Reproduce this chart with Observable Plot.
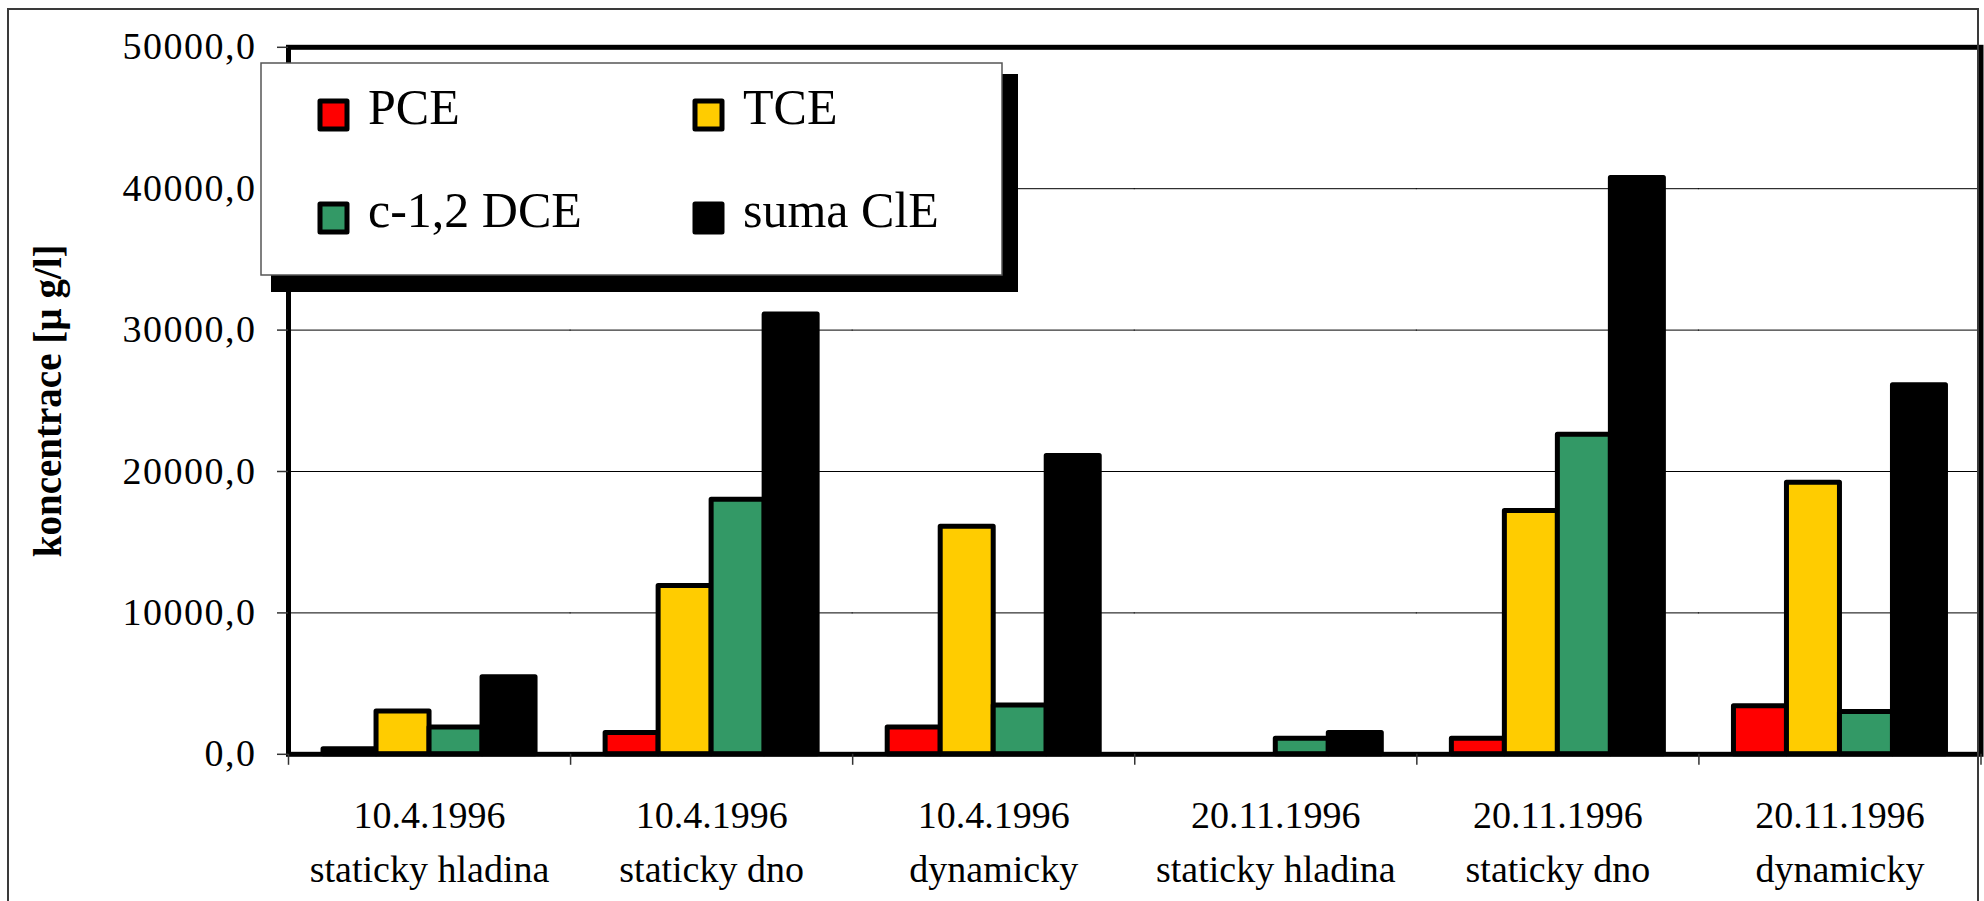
<!DOCTYPE html>
<html><head><meta charset="utf-8">
<script src="https://cdn.jsdelivr.net/npm/d3@7"></script>
<script src="https://cdn.jsdelivr.net/npm/@observablehq/plot@0.6"></script>
<style>
html,body{margin:0;padding:0;background:#fff;overflow:hidden;}
#wrap{position:relative;width:1984px;height:901px;overflow:hidden;background:#fff;}
#wrap > svg{position:absolute;left:0;top:0;max-width:none;}
g[aria-label="y-axis tick label"] text{letter-spacing:1.5px;}
g[aria-label="xlabels"] text{letter-spacing:1px;}
</style></head><body><div id="wrap"></div>
<script>
// ---- data ----
const dates = ["10.4.1996","10.4.1996","10.4.1996","20.11.1996","20.11.1996","20.11.1996"];
const sites = ["staticky hladina","staticky dno","dynamicky","staticky hladina","staticky dno","dynamicky"];
const series = ["PCE","TCE","c-1,2 DCE","suma ClE"];
const colors = ["#ff0000","#ffcc00","#339966","#000000"];
const PCE     = [350, 1500, 1900, 0, 1100, 3400];
const TCE     = [3030, 11900, 16100, 0, 17200, 19200];
const DCE     = [1900, 18000, 3460, 1100, 22600, 3000];
const sumaClE = [5450, 31100, 21100, 1500, 40750, 26100];
const yTicks = [0, 10000, 20000, 30000, 40000, 50000];
const yLabel = "koncentrace [µ g/l]";

const categories = dates.map((d, i) => d + "\n" + sites[i]);
const values = [PCE, TCE, DCE, sumaClE];
const rows = [];
series.forEach((s, j) => categories.forEach((c, i) => rows.push({cat: c, series: s, value: values[j][i]})));

// ---- layout ----
const W = 1984, H = 901;
const ML = 288, MR = 3.5, MT = 46.8, MB = H - 753.8;
const pInner = 0.2484, pOuter = pInner / 2;
const step = (W - ML - MR) / categories.length;
const outerGap = step * pOuter;
const fmt = d => d.toFixed(1).replace(".", ",");
const font = "'Liberation Serif', 'Times New Roman', serif";

const chart = Plot.plot({
  width: W, height: H,
  marginLeft: ML, marginRight: MR, marginTop: MT, marginBottom: MB,
  style: {fontFamily: font, fontSize: "38px", color: "#000", background: "transparent", overflow: "visible"},
  fx: {domain: categories, paddingInner: pInner, paddingOuter: pOuter, round: false, label: null},
  x: {domain: series, padding: 0, round: false, axis: null},
  y: {domain: [0, 50000], label: null},
  color: {domain: series, range: colors},
  marks: [
    Plot.ruleY(yTicks.slice(1, -1), {stroke: "#000", strokeWidth: 1, insetLeft: -outerGap - 0.5, insetRight: -outerGap - 0.5}),
    Plot.barY(rows, {fx: "cat", x: "series", y: "value", fill: "series", stroke: "#000", strokeWidth: 5, strokeLinejoin: "round"}),
    Plot.frame({facet: "super", stroke: "#000", strokeWidth: 5, insetLeft: -outerGap, insetRight: -outerGap}),
    Plot.axisY({ticks: yTicks, tickSize: 11, tickPadding: 21, tickFormat: fmt, dx: -outerGap, facetAnchor: "left",
                fontSize: 38, stroke: "#333", fill: "#000", strokeWidth: 1.5, label: null}),
    Plot.axisFx({anchor: "bottom", tickSize: 11, tickFormat: () => "", dx: -step / 2, label: null, stroke: "#333", strokeWidth: 1.5}),
    Plot.axisFx({anchor: "bottom", ticks: [categories[categories.length - 1]], tickSize: 11, tickFormat: () => "", dx: step / 2, label: null, stroke: "#333", strokeWidth: 1.5}),
    Plot.text(categories, {fx: d => d, text: d => d, frameAnchor: "bottom", lineAnchor: "top", dy: 34.9, lineHeight: 1.43,
                           fontSize: 38, fill: "#000", ariaLabel: "xlabels"}),
    Plot.text([yLabel], {facet: "super", text: d => d, frameAnchor: "left", rotate: -90, dx: 60 - (ML + outerGap), textAnchor: "middle",
                         lineAnchor: "bottom", fontWeight: "bold", fontSize: 39, fill: "#000"})
  ]
});
const wrap = document.getElementById("wrap");
wrap.appendChild(chart);

// outer chart-area border
const border = document.createElement("div");
Object.assign(border.style, {position: "absolute", left: "7px", top: "8px", width: "1968px", height: "1000px",
  border: "2px solid #3a3a3a", boxSizing: "content-box", pointerEvents: "none"});
wrap.appendChild(border);

// legend overlay
const leg = d3.select(wrap).append("svg").attr("width", W).attr("height", H);
const box = {x: 261, y: 63, w: 741, h: 212};
leg.append("rect").attr("x", box.x + 10).attr("y", box.y + 11).attr("width", box.w + 6).attr("height", box.h + 6).attr("fill", "#000");
leg.append("rect").attr("x", box.x).attr("y", box.y).attr("width", box.w).attr("height", box.h)
  .attr("fill", "#fff").attr("stroke", "#555").attr("stroke-width", 1.5);
const colX = [320, 695], rowY = [101, 204];
series.forEach((s, i) => {
  const cx = colX[i % 2], ry = rowY[Math.floor(i / 2)];
  leg.append("rect").attr("x", cx).attr("y", ry).attr("width", 27).attr("height", 28)
    .attr("fill", colors[i]).attr("stroke", "#000").attr("stroke-width", 5).attr("stroke-linejoin", "round");
  leg.append("text").attr("x", cx + 48).attr("y", ry + 22.5).attr("font-family", font).attr("font-size", 50)
    .attr("fill", "#000").text(s);
});
</script></body></html>
